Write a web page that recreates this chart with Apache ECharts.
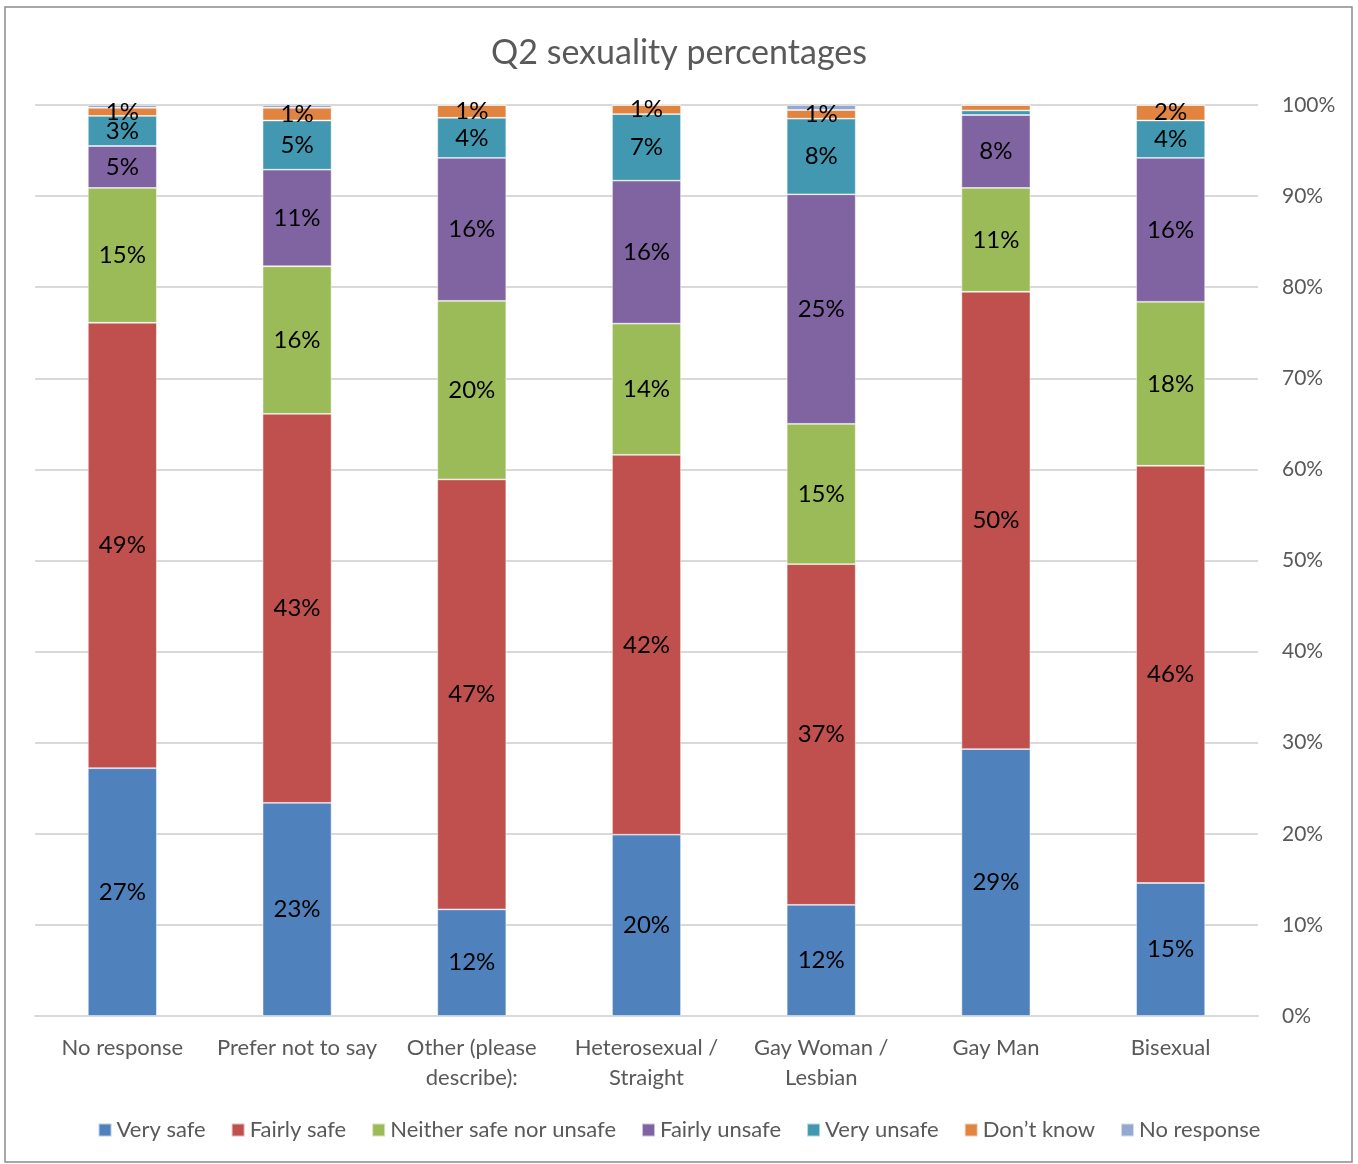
<!DOCTYPE html>
<html>
<head>
<meta charset="utf-8">
<script src="https://cdn.jsdelivr.net/npm/echarts@6/dist/echarts.min.js"></script>
<style>
  html, body { margin: 0; padding: 0; background: #fff; }
  #chart { width: 1358px; height: 1164px; }
</style>
</head>
<body>
<div id="chart"></div>
<script>
// categories (x axis)
const categories = ['No response', 'Prefer not to say', 'Other (please\ndescribe):', 'Heterosexual /\nStraight', 'Gay Woman /\nLesbian', 'Gay Man', 'Bisexual']

// percentages, one array per answer
const verySafe      = [27.2, 23.4, 11.7, 19.9, 12.2, 29.3, 14.6]
const fairlySafe    = [48.9, 42.7, 47.2, 41.7, 37.4, 50.2, 45.8]
const neither       = [14.8, 16.2, 19.6, 14.4, 15.4, 11.4, 18.0]
const fairlyUnsafe  = [4.6, 10.6, 15.7, 15.7, 25.2, 8.0, 15.8]
const veryUnsafe    = [3.3, 5.4, 4.4, 7.3, 8.3, 0.5, 4.1]
const dontKnow      = [0.9, 1.4, 1.4, 1.0, 0.95, 0.6, 1.7]
const noResponse    = [0.3, 0.3, 0, 0, 0.55, 0, 0]

const yTicks = [0, 10, 20, 30, 40, 50, 60, 70, 80, 90, 100]

const seriesDefs = [
  { name: 'Very safe', data: verySafe, color: '#4f81bd' },
  { name: 'Fairly safe', data: fairlySafe, color: '#c0504d' },
  { name: 'Neither safe nor unsafe', data: neither, color: '#9bbb59' },
  { name: 'Fairly unsafe', data: fairlyUnsafe, color: '#8064a2' },
  { name: 'Very unsafe', data: veryUnsafe, color: '#4198b0' },
  { name: 'Don\u2019t know', data: dontKnow, color: '#e0843f' },
  { name: 'No response', data: noResponse, color: '#93a9d1' }
]

const font = 'Lato, "Open Sans", sans-serif'
const grey = '#595959'

const chart = echarts.init(document.getElementById('chart'))

const option = {
  animation: false,
  title: {
    text: 'Q2 sexuality percentages',
    left: 'center',
    top: 31,
    textStyle: { fontFamily: font, fontSize: 34, fontWeight: 'normal', color: grey }
  },
  legend: {
    bottom: 18,
    left: 'center',
    itemWidth: 13,
    itemHeight: 13,
    itemGap: 25,
    icon: 'rect',
    textStyle: { fontFamily: font, fontSize: 22, color: grey },
    data: seriesDefs.map(s => s.name)
  },
  grid: { left: 35, right: 100, top: 105, bottom: 148 },
  xAxis: {
    type: 'category',
    data: categories,
    axisTick: { show: false },
    axisLine: { lineStyle: { color: '#d9d9d9', width: 2 } },
    axisLabel: { fontFamily: font, fontSize: 22, color: grey, margin: 17, lineHeight: 30, interval: 0 }
  },
  yAxis: {
    type: 'value',
    position: 'right',
    min: yTicks[0],
    max: yTicks[yTicks.length - 1],
    interval: 10,
    axisLine: { show: false },
    axisTick: { show: false },
    splitLine: { lineStyle: { color: '#d9d9d9', width: 2 } },
    axisLabel: { fontFamily: font, fontSize: 21, color: grey, margin: 24, formatter: '{value}%' }
  },
  graphic: [{
    type: 'rect',
    shape: { x: 5, y: 7, width: 1347, height: 1155 },
    style: { fill: 'none', stroke: '#8c8c8c', lineWidth: 1.5 },
    silent: true
  }],
  series: seriesDefs.map(s => ({
    name: s.name,
    type: 'bar',
    stack: 'total',
    barWidth: 69,
    data: s.data,
    itemStyle: { color: s.color, borderColor: 'rgba(255,255,255,0.6)', borderWidth: 0.8 },
    label: {
      show: true,
      position: 'inside',
      fontFamily: font,
      fontSize: 24,
      color: '#000',
      formatter: p => (p.value < 0.8 ? '' : Math.round(p.value) + '%')
    }
  }))
}

chart.setOption(option)
</script>
</body>
</html>
